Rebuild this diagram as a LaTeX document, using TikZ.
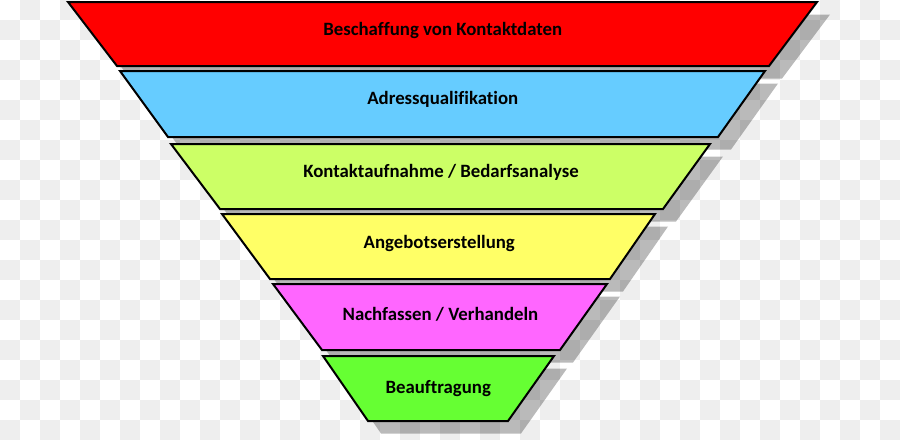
\documentclass[tikz,border=0pt]{standalone}
\usepackage{fontspec}
\setmainfont[Ligatures={NoCommon}]{Carlito}
\definecolor{checkgray}{RGB}{238,238,238}
\definecolor{cRed}{HTML}{FF0000}
\definecolor{cBlue}{HTML}{66CCFF}
\definecolor{cLime}{HTML}{CCFF66}
\definecolor{cYellow}{HTML}{FFFF66}
\definecolor{cMagenta}{HTML}{FF66FF}
\definecolor{cGreen}{HTML}{66FF33}
\tikzset{
  bandshape/.style={draw=black, line width=2pt, line join=miter},
  bandshadow/.style={fill=black, fill opacity=0.27},
  lbl/.style={inner sep=0pt, anchor=base, font=\fontsize{18.8}{22}\selectfont\bfseries, text=black},
}
% #1 name, #2 colour, #3 ytop, #4 ybot, #5 xtl, #6 xtr, #7 xbl, #8 xbr, #9 baseline
\newcommand\funnelband[9]{%
  \fill[bandshadow] (#5pt+13pt,-#3pt-12.5pt) -- (#6pt+13pt,-#3pt-12.5pt) -- (#8pt+13pt,-#4pt-12.5pt) -- (#7pt+13pt,-#4pt-12.5pt) -- cycle;
  \path[bandshape, fill=#2] (#5pt,-#3pt) -- (#6pt,-#3pt) -- (#8pt,-#4pt) -- (#7pt,-#4pt) -- cycle;
  \coordinate (#1) at ({(#5+#6+#7+#8)/4*1pt},-#9pt);
}
\begin{document}
\begin{tikzpicture}
\useasboundingbox (0,0) rectangle (900pt,-440pt);
\fill[white] (0,0) rectangle (900pt,-440pt);
\foreach \j in {0,...,21}{%
  \foreach \i in {0,...,44}{%
    \pgfmathtruncatemacro\s{mod(\i+\j,2)}%
    \ifnum\s=1 \fill[checkgray] (\i*20pt,-\j*20pt) rectangle ++(20pt,-20pt);\fi
  }%
}
\funnelband{b1}{cRed}{2}{66}{68}{817}{117}{769}{35}
\funnelband{b2}{cBlue}{71}{137}{120}{765}{168}{718}{104.7}
\funnelband{b3}{cLime}{144}{209}{171}{710}{220}{663}{177.7}
\funnelband{b4}{cYellow}{214}{279}{222}{655}{270}{610}{248.3}
\funnelband{b5}{cMagenta}{284}{350}{273}{607}{322}{560}{320}
\funnelband{b6}{cGreen}{356}{421}{323}{554}{368}{508}{393}
\node[lbl] (t1) at (b1) {Beschaffung von Kontaktdaten};
\node[lbl] (t2) at (b2) {Adressqualifikation};
\node[lbl] (t3) at (b3) {Kontaktaufnahme / Bedarfsanalyse};
\node[lbl] (t4) at (b4) {Angebotserstellung};
\node[lbl] (t5) at (b5) {Nachfassen / Verhandeln};
\node[lbl] (t6) at (b6) {Beauftragung};
\end{tikzpicture}
\end{document}
